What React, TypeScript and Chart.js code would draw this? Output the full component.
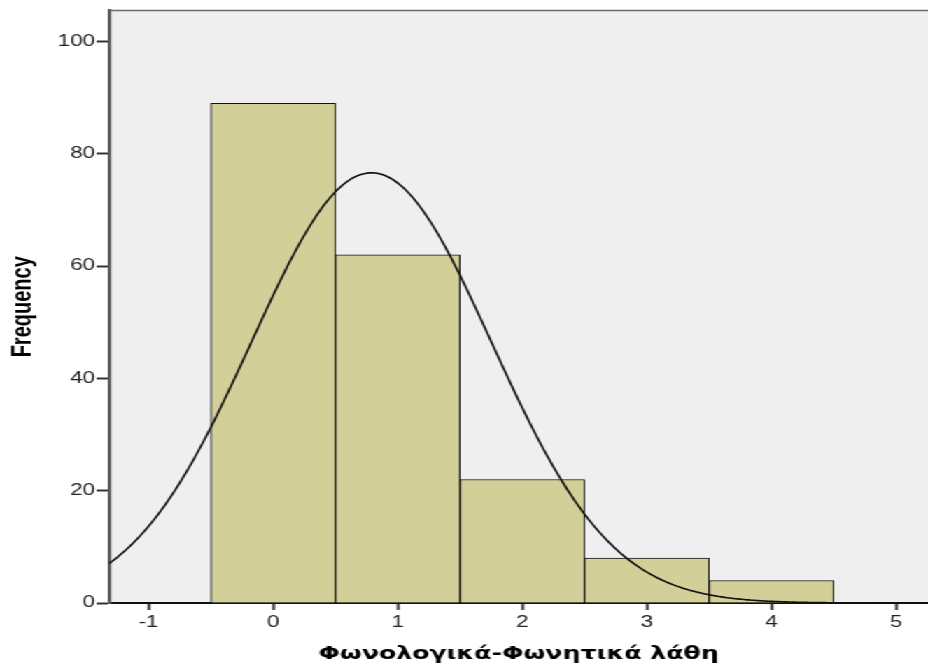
import { useEffect, useRef } from 'react';
import { Chart, registerables } from 'chart.js';

Chart.register(...registerables);

// Histogram bins (centre of each unit-wide bin) and their counts
const binCenters = [0, 1, 2, 3, 4];
const frequencies = [89, 62, 22, 8, 4];

// Axis ticks and ranges
const xTickValues = [-1, 0, 1, 2, 3, 4, 5];
const yTickValues = [0, 20, 40, 60, 80, 100];
const xRange = [-1.316, 5.257];
const yRange = [0, 105.5];

const xTitle = 'Φωνολογικά-Φωνητικά λάθη';
const yTitle = 'Frequency';

// The chart is laid out narrow and widened horizontally, like the exported figure
const STRETCH = 1.4;
const OUT_W = 928;
const OUT_H = 670;
const INNER_W = Math.round(OUT_W / STRETCH);

// Normal curve fitted to the binned counts (mean, sample SD, scaled by N * bin width)
function normalCurve() {
  const n = frequencies.reduce((a, b) => a + b, 0);
  const mean = binCenters.reduce((s, x, i) => s + x * frequencies[i], 0) / n;
  const ss = binCenters.reduce((s, x, i) => s + frequencies[i] * (x - mean) ** 2, 0);
  const sd = Math.sqrt(ss / (n - 1));
  const pts: { x: number; y: number }[] = [];
  const steps = 400;
  for (let k = 0; k <= steps; k++) {
    const x = xRange[0] + ((xRange[1] - xRange[0]) * k) / steps;
    const z = (x - mean) / sd;
    pts.push({ x, y: (n / (sd * Math.sqrt(2 * Math.PI))) * Math.exp(-0.5 * z * z) });
  }
  return pts;
}

const plotBackground = {
  id: 'plotBackground',
  beforeDraw(chart: any) {
    const { ctx, chartArea } = chart;
    ctx.save();
    ctx.fillStyle = '#efefef';
    ctx.fillRect(chartArea.left, chartArea.top, chartArea.right - chartArea.left, chartArea.bottom - chartArea.top);
    ctx.restore();
  },
  afterDraw(chart: any) {
    const { ctx, chartArea } = chart;
    ctx.save();
    ctx.strokeStyle = '#6a6a6a';
    ctx.lineWidth = 1.5;
    ctx.beginPath();
    ctx.moveTo(chartArea.left, chartArea.top);
    ctx.lineTo(chartArea.right, chartArea.top);
    ctx.stroke();
    ctx.restore();
  },
};

const FONT = '"Liberation Sans", Arial, sans-serif';
const TITLE_FONT = '"DejaVu Sans", Verdana, sans-serif';

export default function App() {
  const canvasRef = useRef<HTMLCanvasElement | null>(null);

  useEffect(() => {
    if (!canvasRef.current) return;
    const chart = new Chart(canvasRef.current, {
      type: 'bar',
      data: {
        datasets: [
          {
            type: 'line',
            data: normalCurve(),
            borderColor: '#111',
            borderWidth: 1.6,
            pointRadius: 0,
            fill: false,
            tension: 0,
            order: 0,
          } as any,
          {
            type: 'bar',
            data: binCenters.map((x, i) => ({ x, y: frequencies[i] })),
            backgroundColor: '#d3cf98',
            borderColor: '#111',
            borderWidth: 1,
            barPercentage: 1,
            categoryPercentage: 1,
            order: 1,
          } as any,
        ],
      },
      options: {
        responsive: false,
        animation: false,
        devicePixelRatio: 1,
        layout: { padding: { top: 7, left: 0, right: 0, bottom: 0 } },
        plugins: { legend: { display: false }, tooltip: { enabled: false } },
        scales: {
          x: {
            type: 'linear',
            min: xRange[0],
            max: xRange[1],
            offset: false,
            afterBuildTicks: (s: any) => {
              s.ticks = xTickValues.map((v) => ({ value: v }));
            },
            afterFit: (s: any) => {
              s.height = OUT_H - 603;
            },
            ticks: {
              autoSkip: false,
              maxRotation: 0,
              padding: 3,
              color: '#222',
              font: { family: FONT, size: 16 },
              callback: (v: any) => String(v),
            },
            grid: {
              offset: false,
              drawOnChartArea: false,
              drawTicks: true,
              tickLength: 7,
              tickWidth: 2,
              tickColor: '#333',
            },
            border: { display: true, color: '#111', width: 2 },
            title: {
              display: true,
              text: xTitle,
              color: '#000',
              font: { family: TITLE_FONT, size: 18, weight: 'bold' },
              padding: { top: 0, bottom: 5 },
            },
          },
          y: {
            type: 'linear',
            min: yRange[0],
            max: yRange[1],
            afterBuildTicks: (s: any) => {
              s.ticks = yTickValues.map((v) => ({ value: v }));
            },
            afterFit: (s: any) => {
              s.width = Math.round(109 / STRETCH);
            },
            ticks: {
              padding: 1,
              color: '#222',
              font: { family: FONT, size: 16 },
              callback: (v: any) => String(v),
            },
            grid: {
              drawOnChartArea: false,
              drawTicks: true,
              tickLength: 9,
              tickWidth: 2,
              tickColor: '#333',
            },
            border: { display: true, color: '#5a5a5a', width: 2.4 },
            title: {
              display: true,
              text: yTitle,
              color: '#000',
              font: { family: FONT, size: 20, weight: 'bold' },
              padding: { top: 4, bottom: 0 },
            },
          },
        },
      },
      plugins: [plotBackground],
    } as any);
    return () => chart.destroy();
  }, []);

  return (
    <div
      style={{
        position: 'absolute',
        left: 0,
        top: 0,
        width: INNER_W,
        height: OUT_H,
        transform: `scaleX(${OUT_W / INNER_W})`,
        transformOrigin: '0 0',
        background: '#fff',
      }}
    >
      <canvas ref={canvasRef} width={INNER_W} height={OUT_H} />
    </div>
  );
}
